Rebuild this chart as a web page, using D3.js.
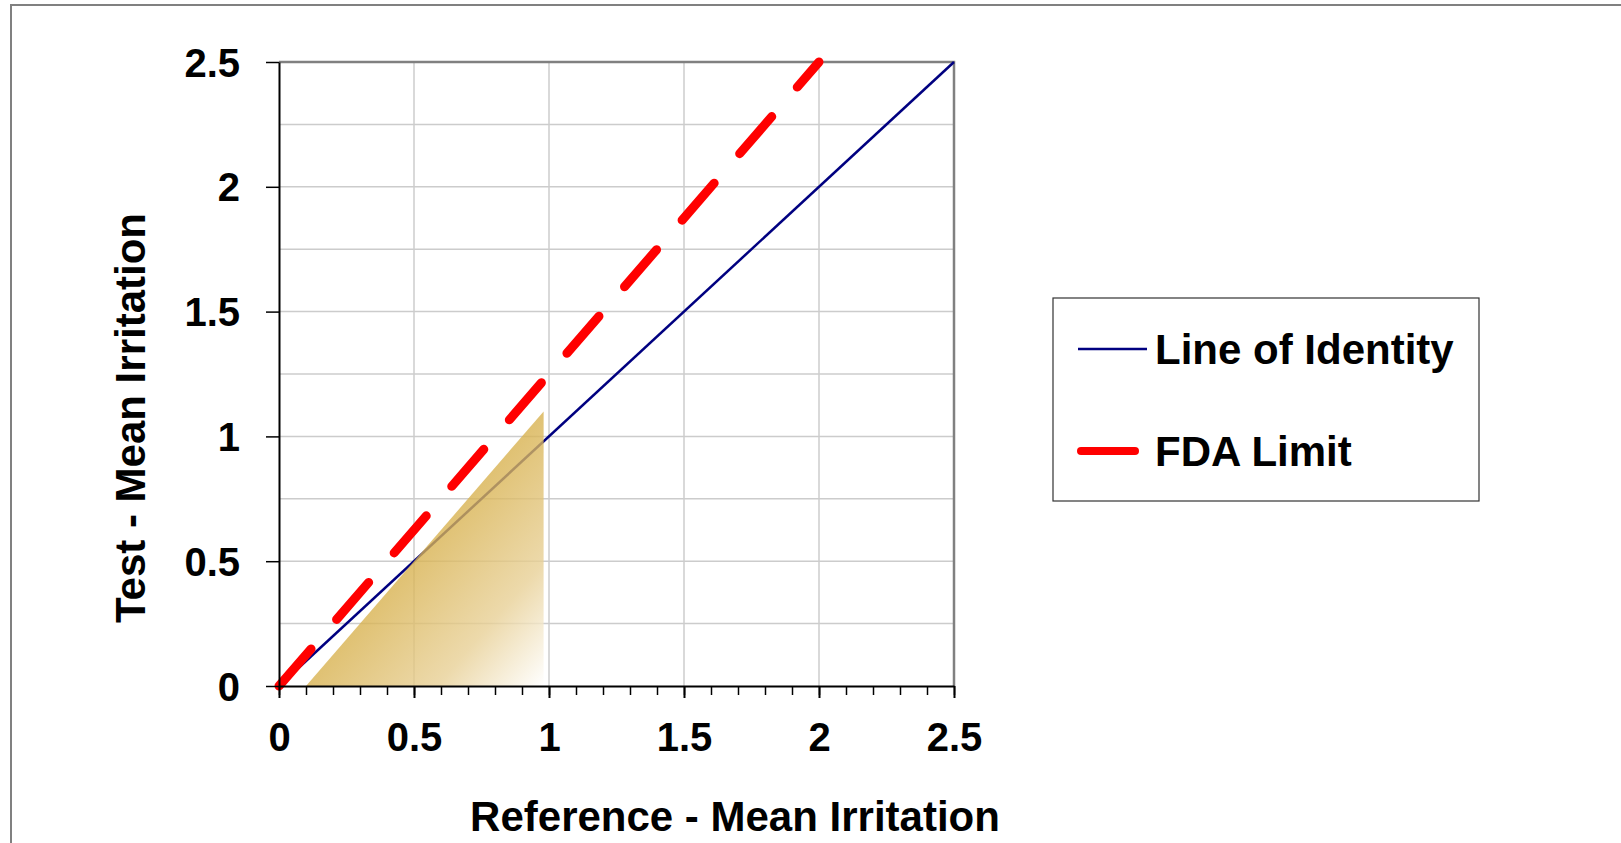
<!DOCTYPE html>
<html>
<head>
<meta charset="utf-8">
<script src="https://cdn.jsdelivr.net/npm/d3@7"></script>
<style>
  body { margin: 0; background: #fff; }
  svg { display: block; font-family: "Liberation Sans", Arial, sans-serif; font-weight: bold; }
</style>
</head>
<body>
<svg width="1621" height="843"></svg>
<script>
// data
const identityLine = [[0, 0], [2.5, 2.5]];
const fdaLimit = [[0, 0], [2, 2.5]];
const acceptRegion = [[0.1, 0], [0.98, 1.1], [0.98, 0]];
const majorTicks = [0, 0.5, 1, 1.5, 2, 2.5];
const xMinorTicks = d3.range(0, 26).map(i => i / 10);
const yGridTicks = [0.25, 0.5, 0.75, 1, 1.25, 1.5, 1.75, 2, 2.25];
const xGridTicks = [0.5, 1, 1.5, 2];
const legendItems = ["Line of Identity", "FDA Limit"];

const svg = d3.select("svg");

// outer frame (top + left only)
svg.append("path")
  .attr("d", "M11,843 L11,5 L1621,5")
  .attr("fill", "none")
  .attr("stroke", "#808080")
  .attr("stroke-width", 2);

//* scales
const x = d3.scaleLinear().domain([0, 2.5]).range([279, 954]);
const y = d3.scaleLinear().domain([0, 2.5]).range([686, 62]);

//* grid
svg.append("g")
  .selectAll("line")
  .data(yGridTicks)
  .enter()
  .append("line")
  .attr("x1", x(0)).attr("x2", x(2.5))
  .attr("y1", d => y(d)).attr("y2", d => y(d))
  .attr("stroke", "#cccccc")
  .attr("stroke-width", 1.5);
svg.append("g")
  .selectAll("line")
  .data(xGridTicks)
  .enter()
  .append("line")
  .attr("x1", d => x(d)).attr("x2", d => x(d))
  .attr("y1", y(0)).attr("y2", y(2.5))
  .attr("stroke", "#cccccc")
  .attr("stroke-width", 1.5);

// plot frame top/right
svg.append("path")
  .attr("d", `M${x(0)},${y(2.5)} L${x(2.5)},${y(2.5)} L${x(2.5)},${y(0)}`)
  .attr("fill", "none")
  .attr("stroke", "#808080")
  .attr("stroke-width", 2.5);

//* line generator
const line = d3.line().x(d => x(d[0])).y(d => y(d[1]));

// identity line
svg.append("path")
  .datum(identityLine)
  .attr("d", line)
  .attr("fill", "none")
  .attr("stroke", "#000080")
  .attr("stroke-width", 2.5);

// FDA limit
svg.append("path")
  .datum(fdaLimit)
  .attr("d", line)
  .attr("fill", "none")
  .attr("stroke", "#ff0000")
  .attr("stroke-width", 9)
  .attr("stroke-linecap", "round")
  .attr("stroke-dasharray", "49 39");

//* gradient region
const p0 = acceptRegion[0], p1 = acceptRegion[1], p2 = acceptRegion[2];
const hx = x(p1[0]) - x(p0[0]), hy = y(p1[1]) - y(p0[1]);
const hl = Math.hypot(hx, hy);
const nx = -hy / hl, ny = hx / hl; // normal pointing to bottom-right
const dist = (x(p2[0]) - x(p0[0])) * nx + (y(p2[1]) - y(p0[1])) * ny;
const mx = (x(p0[0]) + x(p1[0])) / 2, my = (y(p0[1]) + y(p1[1])) / 2;
const grad = svg.append("defs").append("linearGradient")
  .attr("id", "goldGrad")
  .attr("gradientUnits", "userSpaceOnUse")
  .attr("x1", mx).attr("y1", my)
  .attr("x2", mx + nx * dist).attr("y2", my + ny * dist);
grad.append("stop").attr("offset", "0%").attr("stop-color", "#d8b250");
grad.append("stop").attr("offset", "55%").attr("stop-color", "#e8d096");
grad.append("stop").attr("offset", "100%").attr("stop-color", "#ffffff");

svg.append("path")
  .datum(acceptRegion)
  .attr("d", d => line(d) + "Z")
  .attr("fill", "url(#goldGrad)")
  .attr("fill-opacity", 0.8);

//* axes
const xMinor = svg.append("g")
  .attr("transform", `translate(0, ${y(0)})`)
  .call(d3.axisBottom(x).tickValues(xMinorTicks).tickSize(9).tickSizeOuter(0).tickFormat(""));
xMinor.select(".domain").remove();
xMinor.selectAll("line").attr("stroke", "#000").attr("stroke-width", 1.5);

const xAxis = svg.append("g")
  .attr("transform", `translate(0, ${y(0)})`)
  .call(d3.axisBottom(x).tickValues(majorTicks).tickSize(12).tickSizeOuter(0).tickFormat(d3.format("")));
xAxis.select(".domain").attr("stroke", "#000").attr("stroke-width", 2);
xAxis.selectAll("line").attr("stroke", "#000").attr("stroke-width", 2);
xAxis.selectAll("text")
  .attr("y", 65).attr("dy", 0)
  .style("font-size", "40px")
  .style("font-weight", "bold")
  .attr("fill", "#000");

const yAxis = svg.append("g")
  .attr("transform", `translate(${x(0)}, 0)`)
  .call(d3.axisLeft(y).tickValues(majorTicks).tickSize(13).tickSizeOuter(0).tickFormat(d3.format("")));
yAxis.select(".domain").attr("stroke", "#000").attr("stroke-width", 2);
yAxis.selectAll("line").attr("stroke", "#000").attr("stroke-width", 1.5);
yAxis.selectAll("text")
  .attr("x", -39).attr("dy", "0.35em")
  .style("font-size", "40px")
  .style("font-weight", "bold")
  .attr("fill", "#000");

//* axis titles
svg.append("text")
  .attr("x", 735).attr("y", 831)
  .attr("text-anchor", "middle")
  .style("font-size", "42px")
  .text("Reference - Mean Irritation");
svg.append("text")
  .attr("transform", "translate(145, 418) rotate(-90)")
  .attr("text-anchor", "middle")
  .style("font-size", "42px")
  .text("Test - Mean Irritation");

//* legend
const legend = svg.append("g").attr("transform", "translate(1053, 298)");
legend.append("rect")
  .attr("width", 426).attr("height", 203)
  .attr("fill", "#fff")
  .attr("stroke", "#333")
  .attr("stroke-width", 1.2);
const rows = legend.selectAll("g.row")
  .data(legendItems)
  .enter()
  .append("g")
  .attr("class", "row")
  .attr("transform", (_, i) => `translate(0, ${51 + i * 102})`);
rows.append("line")
  .attr("x1", (_, i) => i === 0 ? 25 : 28)
  .attr("x2", (_, i) => i === 0 ? 94 : 82)
  .attr("stroke", (_, i) => i === 0 ? "#000080" : "#ff0000")
  .attr("stroke-width", (_, i) => i === 0 ? 2.5 : 8)
  .attr("stroke-linecap", (_, i) => i === 0 ? "butt" : "round");
rows.append("text")
  .attr("x", 102).attr("y", 15)
  .style("font-size", "42px")
  .text(d => d);
</script>
</body>
</html>
